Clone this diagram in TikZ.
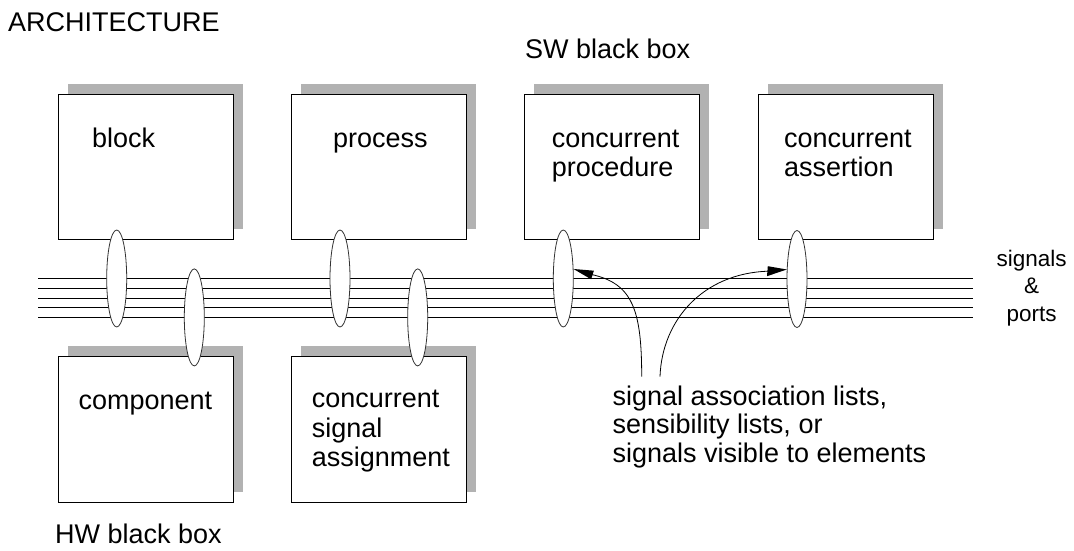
\documentclass[tikz,border=0pt]{standalone}
\usepackage{fontspec}
\setmainfont{Liberation Sans}
\usetikzlibrary{shapes.geometric}
\definecolor{shadowgray}{gray}{0.70}
\tikzset{
  elembox/.style={draw=black, line width=1.1pt, fill=white, rectangle, inner sep=0pt,
    minimum width=175pt, minimum height=145pt},
  lowbox/.style={elembox, minimum height=146pt},
  portring/.style={draw=black!80, line width=0.8pt, fill=white, ellipse, inner sep=0pt,
    minimum width=20pt, minimum height=97pt},
  wire/.style={line width=1.1pt},
  bigtext/.style={anchor=base west, inner sep=0pt, align=left,
    font=\fontsize{27}{29.5}\selectfont},
  notetext/.style={anchor=base west, inner sep=0pt, align=left,
    font=\fontsize{27}{28.5}\selectfont},
  sidetext/.style={anchor=base, inner sep=0pt, align=center,
    font=\fontsize{22.5}{27.8}\selectfont},
  linkarrow/.style={line width=0.8pt},
  headtip/.style={fill=black, draw=none},
}
\begin{document}
\begin{tikzpicture}[x=1pt,y=-1pt]
\useasboundingbox (0,0) rectangle (1074,550);

% element boxes with their drop shadows
\foreach \b/\c/\h in {b1/{145.8,166.7}/145,b2/{378.8,166.7}/145,b3/{611.8,166.7}/145,
                      b4/{845.8,166.7}/145,b5/{145.8,429.3}/146,b6/{378.8,429.3}/146}{
  \coordinate (\b c) at (\c);
  \fill[shadowgray] ([shift={(10-87.5,-10-\h/2)}]\b c) rectangle ([shift={(10+87.5,-10+\h/2)}]\b c);
}
\node[elembox] (b1) at (b1c) {};
\node[elembox] (b2) at (b2c) {};
\node[elembox] (b3) at (b3c) {};
\node[elembox] (b4) at (b4c) {};
\node[lowbox]  (b5) at (b5c) {};
\node[lowbox]  (b6) at (b6c) {};

% signal bus
\foreach \i/\y in {1/278.3,2/288.3,3/298.3,4/307.3,5/317.3}{
  \coordinate (w\i) at (38,\y);
  \coordinate (e\i) at (972.7,\y);
  \draw[wire] (w\i) -- (e\i);
}

% port rings where elements attach to the bus
\node[portring] (r1) at (116.7,278.5) {};
\node[portring] (r2) at (194.3,317.4) {};
\node[portring] (r3) at (340.0,278.5) {};
\node[portring] (r4) at (417.7,317.4) {};
\node[portring] (r5) at (563.3,278.5) {};
\node[portring] (r6) at (797.0,279.0) {};

% arrows from the annotation to the rings, with filled heads
\coordinate (s1) at (641.7,376.7);
\coordinate (s2) at (660.0,376.7);
\draw[linkarrow] (s1) .. controls +(0,-67) and +(41,9) .. ([shift={(18,5.5)}]r5.43);
\fill[headtip] (r5.43) -- ([shift={(20.4,1.7)}]r5.43) -- ([shift={(17.6,10.3)}]r5.43) -- cycle;
\draw[linkarrow] (s2) .. controls +(2,-57) and +(-65,2) .. ([shift={(-18.5,1.7)}]r6.137);
\fill[headtip] (r6.137) -- ([shift={(-19,-3.3)}]r6.137) -- ([shift={(-19.8,6.7)}]r6.137) -- cycle;

% labels
\node[bigtext] (tArch) at (8,31.7) {ARCHITECTURE};
\node[bigtext] (tSW) at (525,58.3) {SW black box};
\node[bigtext] (t1) at (92,147.3) {block};
\node[bigtext] (t2) at (333,147.3) {process};
\node[bigtext] (t3) at (551.7,176.8) {concurrent\\procedure};
\node[bigtext] (t4) at (784,176.8) {concurrent\\assertion};
\node[bigtext] (t5) at (78.3,409) {component};
\node[bigtext] (t6) at (311.7,466.7) {concurrent\\signal\\assignment};
\node[bigtext] (tHW) at (55,543.3) {HW black box};
\node[notetext] (tNote) at (612.3,462) {signal association lists,\\sensibility lists, or\\signals visible to elements};
\node[sidetext] (tBus) at (1031.7,321.6) {signals\\\&\\ports};
\end{tikzpicture}
\end{document}
